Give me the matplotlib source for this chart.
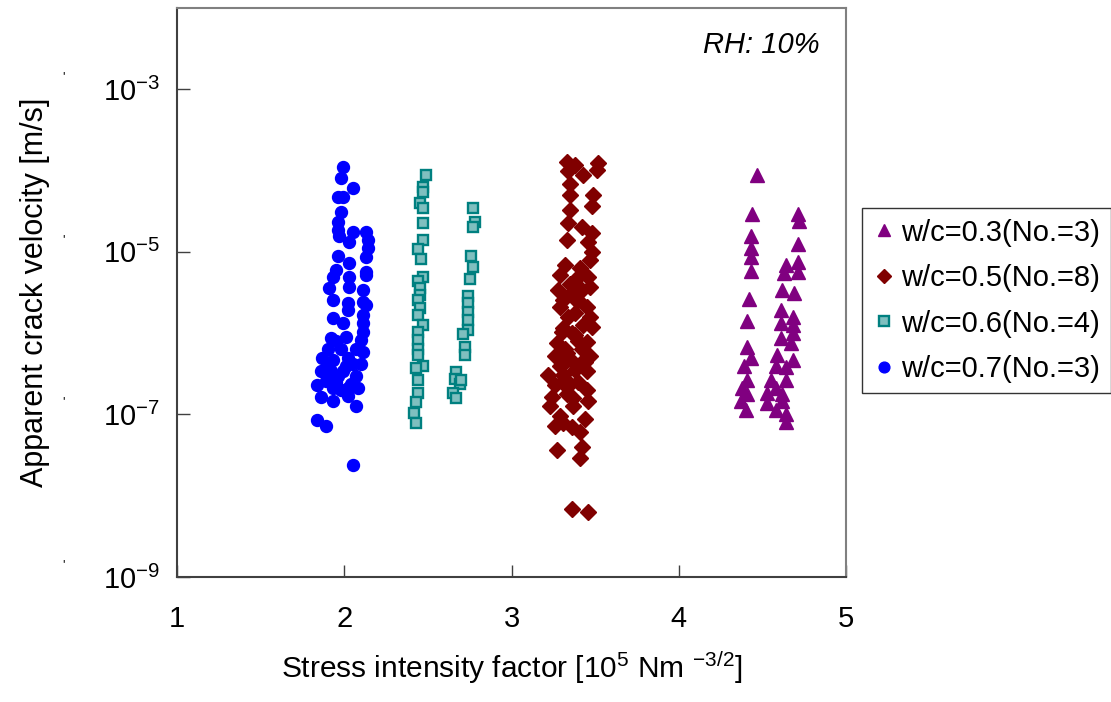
import numpy as np
import matplotlib
matplotlib.use("Agg")
import matplotlib.pyplot as plt
import matplotlib.transforms as mtransforms

plt.rcParams['font.family'] = ['Liberation Sans', 'DejaVu Sans']
plt.rcParams['mathtext.fontset'] = 'custom'
plt.rcParams['mathtext.rm'] = 'Liberation Sans'
plt.rcParams['mathtext.it'] = 'Liberation Sans:italic'

# ---- data: stress intensity factor K [1e5 Nm^-3/2], log10 of crack velocity [m/s]
k_wc03 = [4.47, 4.44, 4.71, 4.72, 4.71, 4.43, 4.43, 4.43, 4.43, 4.64, 4.71, 4.71, 4.63,
          4.42, 4.62, 4.69, 4.41, 4.61, 4.68, 4.61, 4.68, 4.68, 4.61, 4.67, 4.41, 4.43,
          4.39, 4.59, 4.68, 4.58, 4.64, 4.41, 4.55, 4.64, 4.38, 4.58, 4.41, 4.53, 4.62,
          4.37, 4.53, 4.62, 4.40, 4.58, 4.64, 4.64]
lv_wc03 = [-4.05, -4.53, -4.54, -4.62, -4.90, -4.81, -4.95, -5.06, -5.23, -5.16, -5.12, -5.25, -5.26,
           -5.58, -5.47, -5.51, -5.85, -5.72, -5.80, -5.88, -5.90, -6.00, -6.06, -6.12, -6.17, -6.30,
           -6.40, -6.27, -6.33, -6.40, -6.42, -6.58, -6.58, -6.58, -6.67, -6.68, -6.75, -6.73, -6.75,
           -6.83, -6.86, -6.83, -6.95, -6.94, -6.99, -7.09]

k_wc05 = [3.33, 3.38, 3.52, 3.51, 3.34, 3.43, 3.35, 3.35, 3.49, 3.48, 3.35, 3.34, 3.42, 3.48,
          3.33, 3.46, 3.48, 3.47, 3.32, 3.41, 3.29, 3.46, 3.38, 3.28, 3.42, 3.47, 3.31, 3.40,
          3.29, 3.45, 3.34, 3.47, 3.31, 3.48, 3.30, 3.38, 3.27, 3.45, 3.32, 3.42, 3.26, 3.47,
          3.35, 3.29, 3.41, 3.22, 3.31, 3.45, 3.26, 3.35, 3.40, 3.45, 3.24, 3.33, 3.23, 3.37,
          3.46, 3.29, 3.44, 3.26, 3.36, 3.41, 3.42, 3.27, 3.41, 3.36, 3.46,
          3.36, 3.38, 3.32, 3.40, 3.36, 3.43, 3.30, 3.38, 3.44, 3.35, 3.37, 3.31, 3.39, 3.33]
lv_wc05 = [-3.89, -3.93, -3.91, -3.99, -4.01, -4.05, -4.17, -4.30, -4.30, -4.43, -4.49, -4.64, -4.70, -4.77,
           -4.85, -4.88, -5.00, -5.10, -5.16, -5.20, -5.28, -5.31, -5.35, -5.47, -5.47, -5.43, -5.59, -5.59,
           -5.68, -5.68, -5.80, -5.80, -5.94, -5.93, -5.99, -6.02, -6.12, -6.11, -6.20, -6.20, -6.28, -6.28,
           -6.32, -6.41, -6.38, -6.52, -6.51, -6.47, -6.64, -6.63, -6.60, -6.70, -6.78, -6.75, -6.90, -6.90,
           -6.84, -7.02, -7.06, -7.14, -7.16, -7.22, -7.40, -7.44, -7.53, -8.16, -8.20,
           -5.50, -5.75, -6.35, -6.10, -6.00, -5.90, -6.60, -6.45, -6.35, -5.40, -6.80, -7.10, -5.60, -6.25]

k_wc06 = [2.49, 2.47, 2.47, 2.45, 2.47, 2.47, 2.47, 2.44, 2.46, 2.47, 2.44, 2.45, 2.45, 2.44,
          2.45, 2.44, 2.47, 2.44, 2.44, 2.44, 2.44, 2.47, 2.43, 2.44, 2.44, 2.43, 2.42, 2.43,
          2.77, 2.78, 2.77, 2.76, 2.77, 2.75, 2.74, 2.74, 2.74, 2.74, 2.74, 2.71, 2.72, 2.72,
          2.67, 2.66, 2.69, 2.65, 2.67, 2.70]
lv_wc06 = [-4.05, -4.20, -4.26, -4.40, -4.46, -4.65, -4.86, -4.96, -5.09, -5.31, -5.36, -5.44, -5.53, -5.59,
           -5.69, -5.78, -5.90, -5.99, -6.09, -6.19, -6.27, -6.40, -6.43, -6.58, -6.73, -6.85, -6.98, -7.10,
           -4.46, -4.63, -4.70, -5.05, -5.19, -5.33, -5.54, -5.63, -5.74, -5.84, -5.96, -6.01, -6.17, -6.27,
           -6.48, -6.56, -6.62, -6.73, -6.80, -6.58]

k_wc07 = [1.99, 1.98, 2.05, 1.96, 1.99, 1.98, 1.96, 1.96, 2.05, 1.97, 2.03, 2.13, 2.14, 2.14, 2.13,
          1.96, 2.03, 1.95, 2.13, 2.13, 1.93, 2.03, 2.03, 1.91, 2.11, 1.93, 2.11, 2.13, 2.02, 2.02,
          1.93, 2.11, 1.99, 2.11, 2.11, 2.01, 1.92, 2.10, 1.90, 1.98, 2.11, 1.87, 1.93, 2.02, 2.10,
          1.86, 1.92, 1.99, 2.07, 1.89, 1.95, 2.04, 1.84, 1.93, 2.02, 2.08, 1.86, 1.93, 2.02, 2.07,
          1.84, 1.89, 2.05, 1.95, 2.07, 2.01, 1.96, 2.05, 1.90, 1.98]
lv_wc07 = [-3.96, -4.09, -4.22, -4.33, -4.33, -4.51, -4.63, -4.73, -4.75, -4.81, -4.88, -4.75, -4.85, -4.95, -5.06,
           -5.05, -5.14, -5.22, -5.25, -5.28, -5.31, -5.31, -5.43, -5.44, -5.47, -5.59, -5.62, -5.65, -5.63, -5.72,
           -5.81, -5.78, -5.88, -5.88, -5.99, -6.05, -6.06, -6.09, -6.20, -6.20, -6.23, -6.31, -6.33, -6.31, -6.38,
           -6.47, -6.47, -6.47, -6.53, -6.59, -6.60, -6.63, -6.64, -6.68, -6.67, -6.67, -6.79, -6.83, -6.77, -6.89,
           -7.07, -7.14, -7.62, -6.10, -6.20, -6.40, -6.53, -6.38, -6.41, -6.70]

labels = ["w/c=0.3(No.=3)", "w/c=0.5(No.=8)", "w/c=0.6(No.=4)", "w/c=0.7(No.=3)"]
xticks = [1, 2, 3, 4, 5]
yticks = [1e-9, 1e-7, 1e-5, 1e-3]
ytick_labels = ["10$^{-9}$", "10$^{-7}$", "10$^{-5}$", "10$^{-3}$"]

fig = plt.figure(figsize=(11.11, 7.02), dpi=100)
ax = fig.add_axes([0.1593, 0.178, 0.6022, 0.8106])

ax.plot(k_wc03, 10.0 ** np.array(lv_wc03), ls='none', marker='^', ms=10,
        color='#800080', mec='#800080', label=labels[0])
ax.plot(k_wc05, 10.0 ** np.array(lv_wc05), ls='none', marker='D', ms=7.8,
        color='#800000', mec='#800000', label=labels[1])
ax.plot(k_wc06, 10.0 ** np.array(lv_wc06), ls='none', marker='s', ms=7.3,
        mfc='#7fbfbf', mec='#008080', mew=1.7, label=labels[2])
ax.plot(k_wc07, 10.0 ** np.array(lv_wc07), ls='none', marker='o', ms=8.6,
        color='#0000ff', mec='#0000ff', label=labels[3])

ax.set_yscale('log')
ax.set_xlim(1, 5)
ax.set_ylim(1e-9, 1e-2)
ax.set_xticks(xticks)
ax.set_xticklabels([str(v) for v in xticks], fontsize=21)
ax.set_yticks(yticks)
ax.set_yticklabels(ytick_labels, fontsize=21)
ax.minorticks_off()
ax.tick_params(direction='in', length=9, width=1, color='#404040', pad=12)
ax.tick_params(axis='x', pad=20)

for s in ['left', 'bottom']:
    ax.spines[s].set_color('#404040')
    ax.spines[s].set_linewidth(1.5)
for s in ['top', 'right']:
    ax.spines[s].set_color('#808080')
    ax.spines[s].set_linewidth(1.5)

ax.set_xlabel("Stress intensity factor [10$^{5}$ Nm $^{-3/2}$]", fontsize=21.5, labelpad=12)
ax.set_ylabel("Apparent crack velocity [m/s]", fontsize=22, labelpad=38)

ax.text(0.96, 0.935, "RH: 10%", transform=ax.transAxes, ha='right', va='center',
        fontsize=21, style='italic')

# stray marks on the left margin
blend = mtransforms.blended_transform_factory(fig.transFigure, ax.transData)
for yv in yticks:
    fig.text(0.057, yv * 1.4, "'", transform=blend, fontsize=9, ha='center', va='center')

leg = fig.legend(loc='upper left', bbox_to_anchor=(0.776, 0.703), fontsize=21,
                 frameon=True, fancybox=False, edgecolor='black', markerscale=0.9,
                 handlelength=0.8, handletextpad=0.2, labelspacing=0.6, borderpad=0.35,
                 borderaxespad=0)
leg.get_frame().set_linewidth(1.0)

fig.savefig("out.png", dpi=100)
